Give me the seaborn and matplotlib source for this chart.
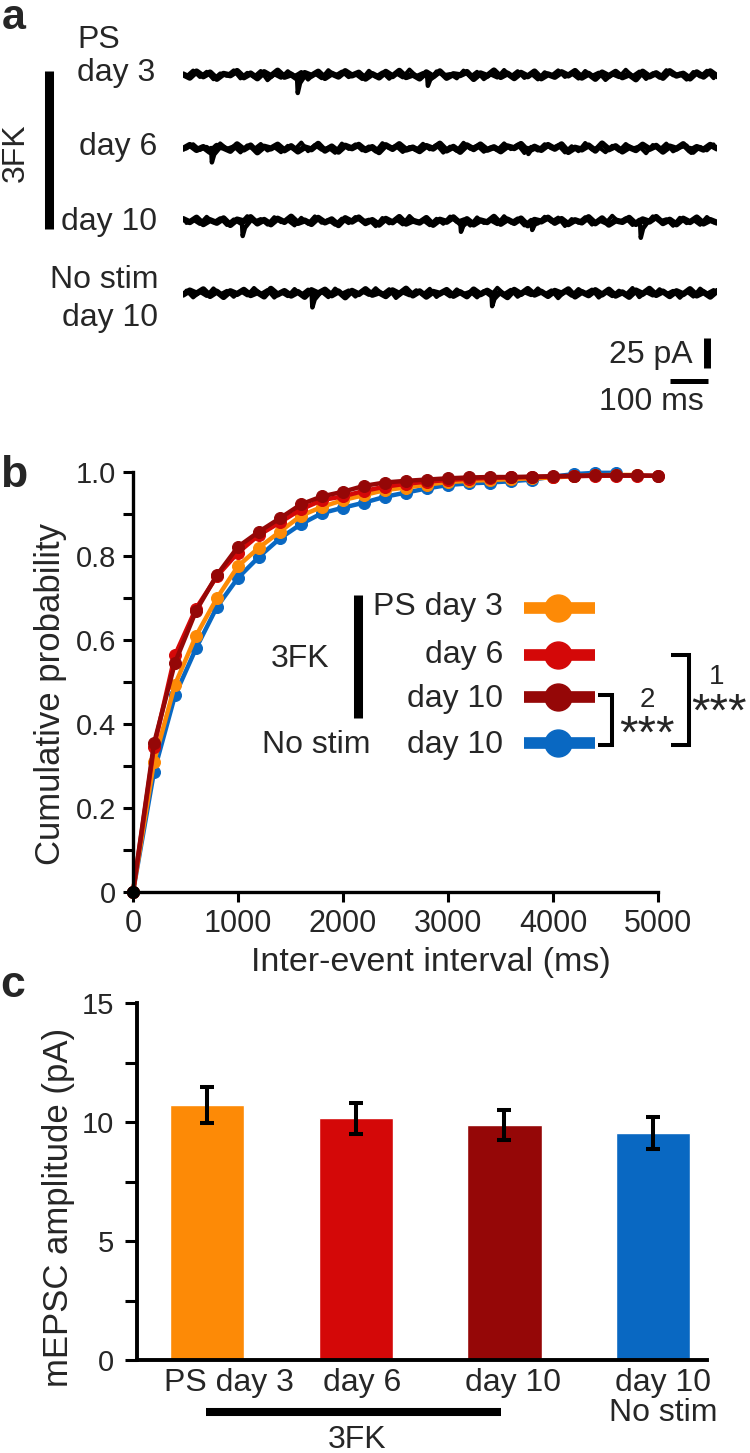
import matplotlib
matplotlib.use('Agg')
from matplotlib import pyplot as plt
from matplotlib.lines import Line2D
from matplotlib.transforms import Affine2D, ScaledTranslation
import numpy as np
import pandas as pd
import seaborn as sns

GROUPS = ['PS day 3', 'day 6', 'day 10', 'No stim day 10']
COLORS = ['#FD8A06', '#D40808', '#950707', '#0968C2']

# --- panel a: example mEPSC traces (pA), ~1.39 s each ---
TRACE_MS = 1387
NOISE_PS3 = [0.4, -1.6, 2.1, -0.8, 1.5, -2.3, 0.7, -0.2, 2.4, -1.4, 0.9, -2.0, 1.7, -0.6, 2.6, -1.1,
             0.3, -2.5, 1.2, -0.4, 2.0, -1.8, 0.8, -1.0, 2.3, -0.3, 1.4, -2.2, 0.6, -1.5, 1.9, -0.7,
             2.5, -1.3, 0.2, -2.1, 1.6, -0.9, 2.2, -1.7, 0.5, -0.1, 1.8, -2.4, 1.0, -0.5, 2.7, -1.2,
             0.9, -1.9, 1.3, -0.8, 2.1, -2.0, 0.4, -1.1, 1.7, -0.3, 2.4, -1.6, 0.7, -2.3, 1.5, -0.6,
             1.9, -1.4, 0.3, -2.6, 2.0, -0.9, 1.1, -1.7, 2.3, -0.4, 0.8, -2.1, 1.6, -1.0, 2.2, -0.7]
NOISE_D6 = [-0.5, 1.8, -1.2, 0.6, -2.4, 1.3, 0.1, -1.7, 2.2, -0.9, 1.5, -2.6, 0.8, -0.3, 2.0, -1.4,
            1.1, -2.1, 0.4, -0.8, 2.5, -1.6, 0.9, -2.2, 1.4, -0.2, 1.9, -1.3, 0.6, -2.5, 1.7, -0.6,
            2.3, -1.0, 0.3, -1.9, 1.2, -0.4, 2.6, -1.5, 0.7, -2.3, 1.6, -0.7, 2.1, -1.1, 0.5, -2.0,
            1.0, -0.1, 2.4, -1.8, 0.8, -1.2, 1.8, -0.5, 2.2, -2.4, 0.2, -0.9, 1.5, -1.6, 2.7, -0.8,
            1.1, -2.1, 0.4, -1.3, 2.0, -0.6, 1.3, -2.2, 0.9, -0.4, 2.3, -1.7, 0.6, -1.0, 1.9, -0.3]
NOISE_D10 = [1.2, -0.7, 2.0, -1.9, 0.5, -1.1, 1.6, -2.4, 0.9, -0.2, 2.3, -1.5, 0.7, -2.0, 1.4, -0.6,
             2.6, -1.2, 0.3, -1.8, 1.9, -0.9, 1.0, -2.5, 1.7, -0.4, 2.1, -1.3, 0.6, -2.2, 1.3, -0.8,
             2.4, -1.6, 0.2, -1.0, 1.8, -2.3, 0.8, -0.5, 2.2, -1.4, 1.1, -2.1, 0.4, -0.7, 2.5, -1.7,
             0.9, -1.2, 1.5, -2.6, 0.7, -0.3, 2.0, -1.1, 1.2, -1.9, 0.5, -0.9, 2.3, -1.4, 1.6, -2.2,
             0.3, -0.6, 1.9, -1.8, 1.0, -0.4, 2.4, -1.3, 0.8, -2.0, 1.4, -0.7, 2.1, -1.5, 0.6, -1.0]
NOISE_NOSTIM = [-1.0, 1.5, -0.3, 2.2, -1.8, 0.8, -2.4, 1.1, -0.6, 1.9, -1.3, 0.4, -2.1, 2.5, -0.9, 1.2,
                -1.6, 0.6, -2.3, 1.7, -0.2, 2.0, -1.4, 0.9, -2.6, 1.3, -0.7, 2.3, -1.1, 0.3, -1.9, 1.6,
                -0.5, 2.6, -1.5, 1.0, -2.2, 0.7, -0.4, 1.8, -1.7, 0.5, -2.0, 2.1, -0.8, 1.4, -1.2, 0.2,
                -2.5, 1.9, -0.6, 2.4, -1.0, 0.8, -1.8, 1.3, -0.3, 2.2, -2.1, 0.6, -1.4, 1.7, -0.9, 2.0,
                -1.6, 0.4, -2.3, 1.5, -0.5, 2.5, -1.2, 0.9, -1.9, 1.1, -0.7, 2.3, -1.5, 0.5, -2.2, 1.2]
# (onset ms, amplitude pA)
EVENTS_PS3 = [(296, 15), (634, 9)]
EVENTS_D6 = [(73, 12), (895, 5), (1318, 4)]
EVENTS_D10 = [(153, 12.5), (720, 9), (905, 7.5), (1187, 14)]
EVENTS_NOSTIM = [(334, 12), (801, 11)]

# --- panel b: cumulative inter-event interval distributions ---
INTERVAL_MS = [0, 200, 400, 600, 800, 1000, 1200, 1400, 1600, 1800, 2000, 2200, 2400,
               2600, 2800, 3000, 3200, 3400, 3600, 3800, 4000, 4200, 4400, 4600, 4800, 5000]
CUM_PS3 = [0, 0.31, 0.494, 0.61, 0.70, 0.776, 0.82, 0.858, 0.896, 0.917, 0.933, 0.945, 0.957,
           0.963, 0.970, 0.976, 0.979, 0.981, 0.983, 0.985, 0.987, 0.990, 0.992, 0.993, 0.993]
CUM_D6 = [0, 0.345, 0.564, 0.675, 0.752, 0.808, 0.85, 0.880, 0.911, 0.933, 0.942, 0.955, 0.965,
          0.972, 0.977, 0.981, 0.984, 0.986, 0.987, 0.988, 0.989, 0.990, 0.991, 0.991, 0.991, 0.991]
CUM_D10 = [0, 0.354, 0.546, 0.669, 0.755, 0.822, 0.858, 0.89, 0.923, 0.942, 0.953, 0.967, 0.975,
           0.979, 0.982, 0.985, 0.987, 0.988, 0.988, 0.989, 0.990, 0.991, 0.992, 0.992, 0.992, 0.991]
CUM_NOSTIM = [0, 0.286, 0.468, 0.58, 0.679, 0.748, 0.798, 0.842, 0.876, 0.902, 0.915, 0.927, 0.941,
              0.951, 0.961, 0.969, 0.973, 0.975, 0.978, 0.982, 0.989, 0.995, 0.998, 0.998]

# --- panel c: mEPSC amplitude, mean and SEM (pA) ---
AMP_LABELS = ['PS day 3', 'day 6', 'day 10', 'day 10\nNo stim']
AMP_MEAN = [10.71, 10.15, 9.87, 9.55]
AMP_SEM = [0.75, 0.65, 0.62, 0.68]

sns.set_style('ticks')
plt.rcParams['font.family'] = ['Liberation Sans', 'DejaVu Sans']
plt.rcParams['axes.edgecolor'] = 'black'

W, H = 750, 1453
FS = 23
fig = plt.figure(figsize=(W / 100, H / 100), dpi=100)
PX = Affine2D().scale(1 / W, -1 / H).translate(0, 1) + fig.transFigure


def box(left, top, right, bottom):
    return [left / W, 1 - bottom / H, (right - left) / W, (bottom - top) / H]


def label(x, y, s, **kw):
    kw.setdefault('fontsize', FS)
    kw.setdefault('va', 'baseline')
    fig.text(x, y, s, transform=PX, **kw)


def bar(xs, ys, lw, color='black'):
    fig.add_artist(Line2D(xs, ys, transform=PX, color=color, lw=lw,
                          solid_capstyle='butt', solid_joinstyle='miter'))


# ---------------- panel a ----------------
ax_a = fig.add_axes(box(183, 30, 717, 420))
ax_a.set_xlim(0, TRACE_MS)
ax_a.set_ylim(-325, 0)  # 1.2 px per pA
ax_a.axis('off')
rows_px = [75, 148, 221, 293]
for noise, events, row in zip([NOISE_PS3, NOISE_D6, NOISE_D10, NOISE_NOSTIM],
                              [EVENTS_PS3, EVENTS_D6, EVENTS_D10, EVENTS_NOSTIM], rows_px):
    base = -(row - 30) / 1.2
    noise = np.array(noise)
    t = np.linspace(0, TRACE_MS, len(noise))
    half = (t[1] - t[0]) / 2
    # two interleaved passes give the dense, jagged look of a raw recording
    ax_a.plot(t, base + noise * 1.4, color='black', lw=4.4)
    ax_a.plot(t[:-1] + half, base + noise[::-1][:-1] * 1.7, color='black', lw=2.8)
    for t0, amp in events:
        ax_a.plot([t0, t0 + 2, t0 + 8, t0 + 22], [base, base - amp, base - 0.45 * amp, base],
                  color='black', lw=3.2)
# scale bars: 25 pA, 100 ms
ax_a.plot([1361, 1361], [-256.7, -281.7], color='black', lw=5, solid_capstyle='butt', clip_on=False)
ax_a.plot([1264, 1364], [-292.5, -292.5], color='black', lw=3.6, solid_capstyle='butt', clip_on=False)
label(693, 363, '25 pA', ha='right')
label(651, 410, '100 ms', ha='center')

label(2, 29, 'a', fontsize=31, fontweight='bold')
label(77, 88, 'PS\nday 3', va='bottom', linespacing=1.13)
label(157, 155, 'day 6', ha='right')
label(157, 230, 'day 10', ha='right')
label(158, 333, 'No stim\nday 10', ha='right', va='bottom', multialignment='right', linespacing=1.35)
label(16, 153, '3FK', rotation=90, ha='center', va='center')
bar([48.5, 48.5], [71, 229], 6.5)

# ---------------- panel b ----------------
ax_b = fig.add_axes(box(133, 472, 658, 892))
for vals, color in zip([CUM_NOSTIM, CUM_PS3, CUM_D6, CUM_D10], [COLORS[3], COLORS[0], COLORS[1], COLORS[2]]):
    sns.lineplot(x=INTERVAL_MS[:len(vals)], y=vals, color=color, lw=3.2, marker='o', markersize=8.6,
                 markeredgecolor=color, clip_on=False, ax=ax_b)
ax_b.plot([INTERVAL_MS[0]], [CUM_D10[0]], 'o', color='black', markersize=8.4, clip_on=False, zorder=10)
ax_b.set_xlim(0, 5000)
ax_b.set_ylim(0, 1.0)
ax_b.set_xticks([0, 1000, 2000, 3000, 4000, 5000])
ax_b.set_yticks([0, 0.2, 0.4, 0.6, 0.8, 1.0], labels=['0', '0.2', '0.4', '0.6', '0.8', '1.0'])
ax_b.set_yticks([0.1, 0.3, 0.5, 0.7, 0.9], minor=True)
ax_b.tick_params(axis='both', which='both', length=7.2, width=2.2, color='black')
ax_b.tick_params(axis='y', labelsize=21, pad=5)
ax_b.tick_params(axis='x', labelsize=22, pad=5)
for s in ['left', 'bottom']:
    ax_b.spines[s].set_linewidth(2.4)
sns.despine(ax=ax_b)
ax_b.set_ylabel('Cumulative probability', fontsize=25, va='center')
ax_b.yaxis.set_label_coords((51 - 133) / 525, (892 - 694) / 420)
ax_b.set_xlabel('Inter-event interval (ms)', fontsize=24.5, va='center')
ax_b.xaxis.set_label_coords((431 - 133) / 525, (892 - 962) / 420)

label(0, 487, 'b', fontsize=32, fontweight='bold')
# legend
legend_rows = [608, 655, 697, 743]
for y, c in zip(legend_rows, COLORS):
    bar([524, 595], [y, y], 8.4, c)
    fig.add_artist(Line2D([558], [y], transform=PX, marker='o', markersize=19.4, color=c, lw=0))
label(503, 615, 'PS day 3', ha='right')
label(503, 663, 'day 6', ha='right')
label(503, 707, 'day 10', ha='right')
label(503, 753, 'day 10', ha='right')
label(262, 753, 'No stim')
label(300, 667, '3FK', ha='center')
bar([357.5, 357.5], [595, 718], 6.5)
# significance brackets
bar([598, 612, 612, 598], [695, 695, 745, 745], 2.9)
bar([671, 689, 689, 671], [655, 655, 745, 745], 2.9)
label(647, 748, '***', fontsize=34, ha='center')
label(647, 707, '2', fontsize=20, ha='center')
label(719, 726, '***', fontsize=34, ha='center')
label(717, 684, '1', fontsize=20, ha='center')

# ---------------- panel c ----------------
ax_c = fig.add_axes(box(137, 1003, 707, 1360))
amp = pd.DataFrame({'group': GROUPS, 'amp': AMP_MEAN})
sns.barplot(data=amp, x='group', y='amp', hue='group', palette=COLORS, saturation=1,
            width=0.5, legend=False, ax=ax_c)
ax_c.errorbar(range(len(AMP_MEAN)), AMP_MEAN, yerr=AMP_SEM, fmt='none', ecolor='black',
              elinewidth=2.9, capsize=4.7, capthick=2.9, zorder=5)
ax_c.set_xlim(-0.471, 3.363)
ax_c.set_ylim(0, 15)
ax_c.set_yticks([0, 5, 10, 15])
ax_c.set_yticks([2.5, 7.5, 12.5], minor=True)
ax_c.set_xticks(range(len(AMP_LABELS)), labels=AMP_LABELS)
ax_c.tick_params(axis='y', which='both', length=8.6, width=2.2, color='black', labelsize=21, pad=8)
ax_c.tick_params(axis='x', length=0, labelsize=FS, pad=6)
for lab, dx in zip(ax_c.get_xticklabels(), [22, 6, 9, 10]):
    lab.set_linespacing(1.0)
    lab.set_transform(lab.get_transform() + ScaledTranslation(dx / 100, 0, fig.dpi_scale_trans))
for s in ['left', 'bottom']:
    ax_c.spines[s].set_linewidth(2.8)
sns.despine(ax=ax_c)
ax_c.set_xlabel('')
ax_c.set_ylabel('mEPSC amplitude (pA)', fontsize=25, va='center')
ax_c.yaxis.set_label_coords((59 - 137) / 570, (1360 - 1207) / 357)

label(0, 997, 'c', fontsize=32, fontweight='bold')
bar([206, 501], [1412, 1412], 5.8)
label(357, 1448, '3FK', ha='center')

fig.savefig('out.png', dpi=100)
